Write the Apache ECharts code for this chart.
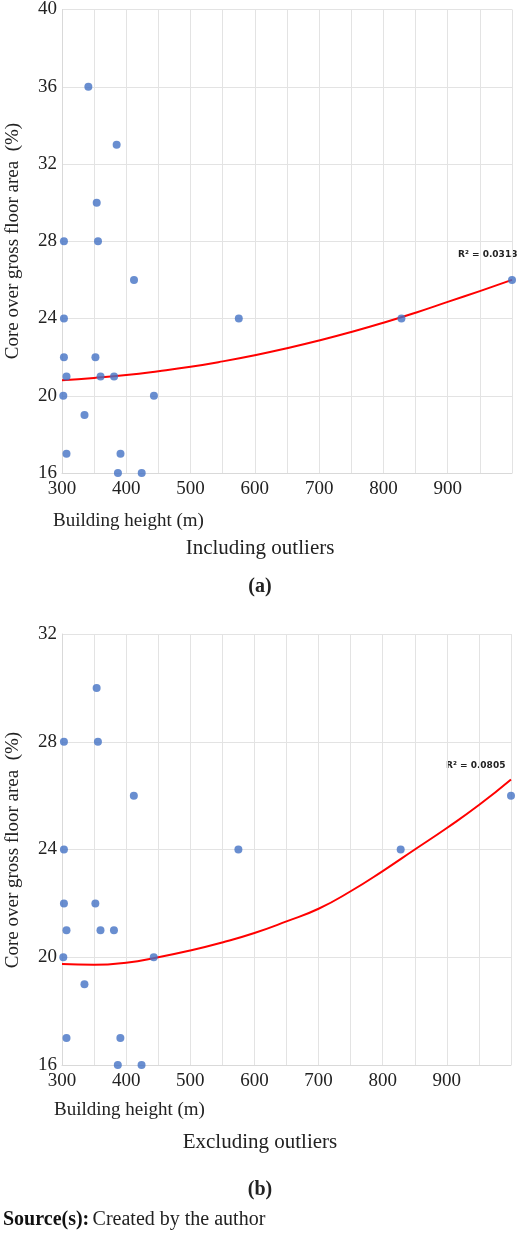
<!DOCTYPE html>
<html><head><meta charset="utf-8">
<script src="https://cdn.jsdelivr.net/npm/echarts@6/dist/echarts.min.js"></script>
<style>html,body{margin:0;padding:0;background:#fff}#c{width:520px;height:1239px}</style>
</head><body><div id="c"></div>
<script>
var heightsA=[341,385,354,356,303,412,303,575,303,352,307,360,381,302,443,335,307,391,387,424,828,1000];
var coreA=[36,33,30,28,28,26,24,24,22,22,21,21,21,20,20,19,17,17,16,16,24,26];
var heightsB=[354,356,303,412,303,575,303,352,307,360,381,302,443,335,307,391,387,424,828,1000];
var coreB=[30,28,28,26,24,24,22,22,21,21,21,20,20,19,17,17,16,16,24,26];
var trendX=[300,350,400,450,500,550,600,650,700,750,800,850,900,950,1000];
var trendA=[20.8,20.92,21.07,21.27,21.5,21.78,22.1,22.46,22.86,23.3,23.78,24.3,24.86,25.42,26.0];
var trendB=[19.75,19.72,19.8,20.0,20.25,20.55,20.9,21.33,21.8,22.45,23.2,24.0,24.8,25.65,26.6];
var xTicks=[300,400,500,600,700,800,900];
var yTicksA=[16,20,24,28,32,36,40];
var yTicksB=[16,20,24,28,32];
function zip(a,b){return a.map(function(v,i){return [v,b[i]];});}
var font='"Liberation Serif","Times New Roman",serif';
function xa(idx){return {gridIndex:idx,type:'value',min:300,max:1000,interval:50,
 axisLine:{lineStyle:{color:'#d9d9d9'}},axisTick:{show:false},
 axisLabel:{fontFamily:font,fontSize:19,color:'#222',margin:7,formatter:function(v){return xTicks.indexOf(v)>=0?String(v):'';}},
 splitLine:{lineStyle:{color:'#e3e3e3'}}};}
function ya(idx,min,max,ticks){return {gridIndex:idx,type:'value',min:min,max:max,interval:4,
 axisLine:{show:true,lineStyle:{color:'#d9d9d9'}},axisTick:{show:false},
 axisLabel:{fontFamily:font,fontSize:19,color:'#222',margin:5,formatter:function(v){return ticks.indexOf(v)>=0?String(v):'';}},
 splitLine:{lineStyle:{color:'#e3e3e3'}}};}
function txt(t,x,y){return {type:'text',left:x,top:y,style:{text:t,font:'19px '+font,fill:'#222'}};}
var chart=echarts.init(document.getElementById('c'));
chart.setOption({
 animation:false,
 grid:[{left:62,top:9,width:450,height:464},{left:62,top:634,width:449,height:431}],
 xAxis:[xa(0),xa(1)],
 yAxis:[ya(0,16,40,yTicksA),ya(1,16,32,yTicksB)],
 series:[
  {type:'line',xAxisIndex:0,yAxisIndex:0,data:zip(trendX,trendA),smooth:true,symbol:'none',lineStyle:{color:'#ff0000',width:2},z:2},
  {type:'scatter',xAxisIndex:0,yAxisIndex:0,data:zip(heightsA,coreA),symbolSize:8,itemStyle:{color:'#4472C4'},z:3},
  {type:'line',xAxisIndex:1,yAxisIndex:1,data:zip(trendX,trendB),smooth:true,symbol:'none',lineStyle:{color:'#ff0000',width:2},z:2},
  {type:'scatter',xAxisIndex:1,yAxisIndex:1,data:zip(heightsB,coreB),symbolSize:8,itemStyle:{color:'#4472C4'},z:3}
 ],
 graphic:[
  {type:'text',left:458,top:250,style:{text:'R² = 0.0313',font:'bold 9px "DejaVu Sans",sans-serif',fill:'#222'}},
  {type:'text',left:446,top:761,style:{text:'R² = 0.0805',font:'bold 9px "DejaVu Sans",sans-serif',fill:'#222'}},
  {type:'text',x:13,y:241,rotation:Math.PI/2,style:{text:'Core over gross floor area  (%)',font:'19px '+font,fill:'#222',align:'center',verticalAlign:'middle'}},
  {type:'text',x:13,y:850,rotation:Math.PI/2,style:{text:'Core over gross floor area  (%)',font:'19px '+font,fill:'#222',align:'center',verticalAlign:'middle'}},
  txt('Building height (m)',53,512),
  {type:'text',left:'center',top:538,style:{text:'Including outliers',font:'21px '+font,fill:'#222'}},
  {type:'text',left:'center',top:577,style:{text:'(a)',font:'bold 20px '+font,fill:'#222'}},
  txt('Building height (m)',54,1101),
  {type:'text',left:'center',top:1132,style:{text:'Excluding outliers',font:'21px '+font,fill:'#222'}},
  {type:'text',left:'center',top:1180,style:{text:'(b)',font:'bold 20px '+font,fill:'#222'}},
  {type:'text',left:3,top:1210,style:{rich:{b:{font:'bold 20px '+font,fill:'#111'},n:{font:'20px '+font,fill:'#222'}},text:'{b|Source(s):} {n|Created by the author}'}}
 ]
});
</script></body></html>
